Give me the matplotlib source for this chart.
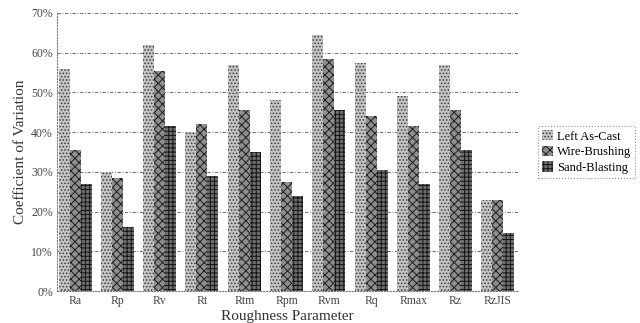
import numpy as np
import matplotlib
matplotlib.use('Agg')
import matplotlib.pyplot as plt
from matplotlib.ticker import FuncFormatter

# values (percent)
params = ['Ra', 'Rp', 'Rv', 'Rt', 'Rtm', 'Rpm', 'Rvm', 'Rq', 'Rmax', 'Rz', 'RzJIS']
left_as_cast = [56, 30, 62, 40, 57, 48, 64.5, 57.5, 49, 57, 23]
wire_brushing = [35.5, 28.5, 55.5, 42, 45.5, 27.5, 58.5, 44, 41.5, 45.5, 23]
sand_blasting = [27, 16, 41.5, 29, 35, 24, 45.5, 30.5, 27, 35.5, 14.5]
series_names = ['Left As-Cast', 'Wire-Brushing', 'Sand-Blasting']

plt.rcParams['font.family'] = ['Liberation Serif', 'DejaVu Serif']
plt.rcParams['hatch.linewidth'] = 0.7

fig = plt.figure(figsize=(6.4, 3.23), dpi=100)
ax = fig.add_axes([0.089, 0.099, 0.72, 0.861])

x = np.arange(len(params))
w = 0.26
# (face, hatch colour, hatch)
styles = [('#c4c4c4', '#3a3a3a', '.....'),
          ('#8e8e8e', '#1e1e1e', 'xxxx'),
          ('#6e6e6e', '#141414', '++++')]
for i, vals in enumerate([left_as_cast, wire_brushing, sand_blasting]):
    fc, hc, h = styles[i]
    ax.bar(x + (i - 1) * w, vals, w, color=fc, edgecolor=hc, hatch=h,
           linewidth=0, label=series_names[i], zorder=2)

ax.set_ylim(0, 70)
ax.set_xlim(-0.43, 10.47)
ax.set_yticks(range(0, 71, 10))
ax.yaxis.set_major_formatter(FuncFormatter(lambda v, p: '%d%%' % v))
ax.set_xticks(x)
ax.set_xticklabels(params)
ax.tick_params(axis='both', length=0, labelsize=8.5, colors='#444444', pad=3)
ax.grid(axis='y', color='#555555', linestyle=(0, (4, 2, 1, 2)), linewidth=0.6, zorder=0)

for s in ['top', 'right']:
    ax.spines[s].set_visible(False)
for s in ['left', 'bottom']:
    ax.spines[s].set_linestyle(':')
    ax.spines[s].set_color('#777777')
    ax.spines[s].set_linewidth(0.8)

ax.set_ylabel('Coefficient of Variation', fontsize=11, color='#333333', labelpad=3)
ax.set_xlabel('Roughness Parameter', fontsize=11, color='#333333', labelpad=2)

leg = ax.legend(loc='center left', bbox_to_anchor=(1.045, 0.5), fontsize=9,
                frameon=True, fancybox=False, borderpad=0.3, handlelength=0.9,
                handleheight=0.9, handletextpad=0.3, labelspacing=0.25,
                borderaxespad=0)
leg.get_frame().set_linestyle(':')
leg.get_frame().set_edgecolor('#777777')
leg.get_frame().set_linewidth(0.8)

fig.savefig('out.png', dpi=100)
